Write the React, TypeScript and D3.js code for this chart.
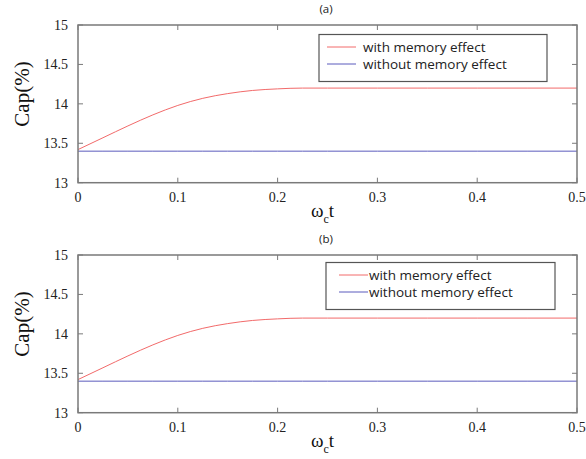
import React from 'react'
import * as d3 from 'd3'

// time samples (omega_c t) and capacity values
const tValues = [0, 0.025, 0.05, 0.075, 0.1, 0.125, 0.15, 0.175, 0.2, 0.225, 0.25, 0.3, 0.35, 0.4, 0.45, 0.5]
const withMemory = [13.42, 13.57, 13.72, 13.86, 13.98, 14.07, 14.13, 14.17, 14.19, 14.2, 14.2, 14.2, 14.2, 14.2, 14.2, 14.2]
const withoutMemory = [13.4, 13.4, 13.4, 13.4, 13.4, 13.4, 13.4, 13.4, 13.4, 13.4, 13.4, 13.4, 13.4, 13.4, 13.4, 13.4]

const xTicks = [0, 0.1, 0.2, 0.3, 0.4, 0.5]
const yTicks = [13, 13.5, 14, 14.5, 15]
const seriesNames = ['with memory effect', 'without memory effect']
const seriesColors = ['#f26a6a', '#5b5bbd']
const panelTitles = ['(a)', '(b)']

const serif = '"Liberation Serif", "DejaVu Serif", serif'
const sans = '"Open Sans", "Noto Sans", sans-serif'

function Panel({ top, title, legendX, legendY, legendW, lineGap }) {
    const left = 78
    const right = 577
    const height = 157.7

    const x = d3.scaleLinear().domain([0, 0.5]).range([left, right])
    const y = d3.scaleLinear().domain([13, 15]).range([top + height, top])

    const line = d3.line<number>()
        .x((d, i) => x(tValues[i]))
        .y(d => y(d))
        .curve(d3.curveMonotoneX)

    const axisColor = '#7a7a7a'
    const tickLen = 5

    return (
        <g>
            <text x={326} y={top - 12} fontFamily={sans} fontSize={11.5} textAnchor="middle" fill="#222">{title}</text>

            <path d={line(withoutMemory)} fill="none" stroke={seriesColors[1]} strokeWidth={1} />
            <path d={line(withMemory)} fill="none" stroke={seriesColors[0]} strokeWidth={1} />

            <rect x={left} y={top} width={right - left} height={height} fill="none" stroke={axisColor} strokeWidth={1.5} />

            {xTicks.map(t => (
                <g key={'x' + t}>
                    <line x1={x(t)} x2={x(t)} y1={top + height} y2={top + height - tickLen} stroke={axisColor} />
                    <line x1={x(t)} x2={x(t)} y1={top} y2={top + tickLen} stroke={axisColor} />
                    <text x={x(t)} y={top + height + 19} fontFamily={serif} fontSize={14} textAnchor="middle" fill="#222">{t === 0 ? '0' : String(t)}</text>
                </g>
            ))}
            {yTicks.map(v => (
                <g key={'y' + v}>
                    <line x1={left} x2={left + tickLen} y1={y(v)} y2={y(v)} stroke={axisColor} />
                    <line x1={right} x2={right - tickLen} y1={y(v)} y2={y(v)} stroke={axisColor} />
                    <text x={left - 10} y={y(v) + 5} fontFamily={serif} fontSize={14} textAnchor="end" fill="#222">{String(v)}</text>
                </g>
            ))}

            <text transform={`translate(29,${top + 69}) rotate(-90)`} fontFamily={serif} fontSize={21} textAnchor="middle" fill="#111">Cap(%)</text>

            <text x={311} y={top + 192} fontFamily={serif} fontSize={19} fill="#111">
                ω<tspan fontSize={12} dy={6}>c</tspan><tspan dy={-6}>t</tspan>
            </text>

            <rect x={legendX} y={legendY} width={legendW} height={47} fill="#fff" stroke="#555" strokeWidth={1.2} />
            {seriesNames.map((name, i) => (
                <g key={name}>
                    <line x1={legendX + lineGap[0]} x2={legendX + lineGap[1]} y1={legendY + 12.5 + i * 17} y2={legendY + 12.5 + i * 17} stroke={seriesColors[i]} strokeWidth={1} />
                    <text x={legendX + lineGap[2]} y={legendY + 17 + i * 17} fontFamily={sans} fontSize={13.5} fill="#222">{name}</text>
                </g>
            ))}
        </g>
    )
}

export default function App() {
    return (
        <svg width={586} height={459} style={{ position: 'absolute', left: 0, top: 0, background: '#fff' }}>
            <Panel top={25} title={panelTitles[0]} legendX={319} legendY={34.5} legendW={228} lineGap={[8, 37, 44]} />
            <Panel top={255} title={panelTitles[1]} legendX={326} legendY={262.5} legendW={229} lineGap={[13, 42, 43]} />
        </svg>
    )
}
